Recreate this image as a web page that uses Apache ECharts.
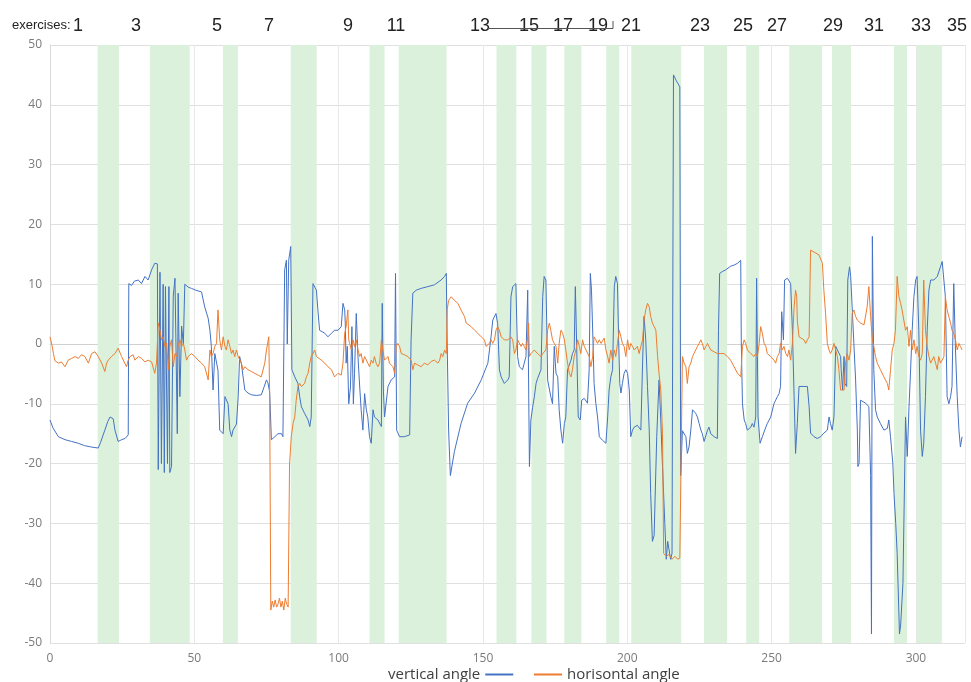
<!DOCTYPE html>
<html>
<head>
<meta charset="utf-8">
<script src="https://cdn.jsdelivr.net/npm/echarts@6/dist/echarts.min.js"></script>
<style>html,body{margin:0;padding:0;background:#fff}#c{width:971px;height:682px}</style>
</head>
<body>
<div id="c"></div>
<script>
// ---- data ----
const seriesNames = ['vertical angle', 'horisontal angle'];
const yTicks = [-50, -40, -30, -20, -10, 0, 10, 20, 30, 40, 50];
const xTicks = [0, 50, 100, 150, 200, 250, 300];
const exerciseLabels = ['1','3','5','7','9','11','13','15','17','19','21','23','25','27','29','31','33','35'];
const bandStarts = [16.5, 34.6, 59.9, 83.4, 110.7, 120.8, 154.7, 166.8, 178.2, 192.7, 201.4, 226.6, 241.2, 256.1, 270.9, 292.4, 300.3];
const bandEnds   = [23.9, 48.4, 65.1, 92.4, 115.9, 137.4, 161.6, 172.0, 184.1, 197.2, 218.7, 234.6, 245.7, 267.5, 277.5, 296.9, 309.0];

const blueX = [0,1,2.9,5.2,7.5,9.8,12,14,16.7,17.5,19,20,20.8,21.9,22.5,23.6,24.8,26,27.1,27.3,28.3,29.2,30.6,31.7,32.9,34,35.2,36.3,37.2,
37.5,38.1,38.6,39.2,39.6,40,40.7,41.2,41.5,42.1,42.7,43.3,44.1,44.4,45,45.6,46.2,46.7,47.9,49,50.5,52.5,53.6,54.8,55.4,55.9,56.5,57.1,58.2,58.8,60,60.6,61.7,62.3,62.9,63.4,64.6,65.2,65.7,66.3,67.5,68.6,69.8,71.5,73.2,73.8,75,75.5,76.1,76.7,77.9,79,
80.2,80.7,81.3,81.9,82.2,82.7,83.4,83.8,84.8,85.9,86.5,87.1,88.2,89.4,90,90.5,91.1,92.3,92.8,93.4,94,95.2,96.3,97.5,98.6,99.8,100.9,101.5,102.1,102.3,102.6,103,103.5,104.1,104.6,105.1,105.5,106.1,106.7,107.3,107.8,108.4,109,109.6,110.1,110.7,111.3,111.9,112.4,113.6,114.8,115.1,115.5,115.9,117.1,118.2,119.4,119.7,120.1,121.1,122.8,124.6,125.1,125.7,126.9,128.6,130.9,133.2,135.5,136.7,137.3,137.6,138.1,138.7,140.1,142.4,144.7,147.1,149.4,151.7,152.8,153.4,154.5,155.1,155.7,156.3,157.4,158.6,
159.1,159.7,160.3,160.9,161.4,162,162.6,163.7,164.3,164.9,165.5,166.1,166.6,167.2,167.8,168.4,168.9,169.5,170.1,170.7,171.2,171.8,172.2,172.4,173.5,174.1,174.7,175.3,175.9,176.4,177,177.6,178.2,178.7,179.3,180.5,181,181.6,182,182.5,183,183.7,184.2,185.1,185.7,186.2,186.8,187.2,187.6,188.1,188.5,189.1,189.7,190.3,191.4,192.6,193.2,193.7,194.3,194.9,195.5,196,196.6,197,197.4,197.8,198.3,198.9,199.5,200.1,200.7,201.2,201.8,202.4,203.5,204.7,205.3,205.8,206.4,207,207.6,208.1,208.7,209.3,210.2,211,211.6,212.2,213,213.5,214,215,215.5,216,216.5,217,217.5,218,218.2,218.5,219.1,220.3,220.8,221.4,222,222.6,223.1,223.7,224.3,224.9,225.5,226,226.6,227.2,227.8,228.3,228.9,230.1,231.2,231.6,232,232.9,234.1,235.8,237,238.2,239.3,
239.5,239.9,240.5,241,241.6,242.2,242.8,243.3,243.9,244.5,244.8,245.3,246,246.8,248,248.5,249.7,250.8,251.4,252,252.6,253.1,253.5,254.1,254.5,255.5,256,256.6,257.2,257.8,258.3,258.9,259.5,260.1,261.2,262.4,263,263.5,264.7,265.8,267,268.1,269.3,269.9,270.4,271,271.6,272.2,272.8,273.3,273.9,274.1,274.6,275.1,275.4,276,276.4,277,277.4,277.9,278.5,279.1,279.7,279.9,280.3,280.8,281.4,282.6,283.1,283.7,284.3,284.6,284.9,285.4,286,286.6,287.7,288.9,290.1,290.6,291.2,292,292.4,293,293.5,294.3,294.7,295.5,296.4,297,297.6,298.1,298.7,299.3,299.9,300.4,301,301.6,302.2,302.7,303.3,303.9,304.5,305.1,306.2,307.4,308.5,309.1,309.7,310.2,310.8,311.4,312,312.5,313.1,313.7,314.3,314.9,315.4,316];
const blueY = [-12.7,-14,-15.5,-16,-16.3,-16.6,-17,-17.2,-17.4,-16.5,-14.4,-13,-12.2,-12.5,-14.4,-16.3,-16,-15.8,-15.2,10.1,9.8,10.5,10.7,10.1,11.3,10.7,12.4,13.5,13.4,
-21,12,-20,10,-21.5,9.6,-20,9.6,-21.5,-20.5,8,11,-15,8.5,-8.8,3,0,10,9.5,9.3,9.0,8.7,6.2,4.3,2.3,-0.4,-7.7,-1.6,-4.4,-14.4,-15,-8.8,-10,-14.4,-15.5,-14.4,-13.4,-8.8,-2.1,-3.3,-7.7,-8.2,-8.5,-8.6,-8.5,-7.7,-6,-6.5,-8,-16,-15.5,-15,
-15,-15.5,12.4,14,0,14,16.3,-4.3,-5.5,-6.6,-8.8,-10.5,-11.6,-12.7,-13.8,-12.2,10.1,9,5.7,2.3,2,1.8,1.2,1.8,2.3,2.3,2.9,6.8,5.7,3.4,-3.2,-0.4,-10,-7.2,2.9,-10,-4.9,5.1,-2.1,-7.2,-11,-14.4,-8.3,-11,-12.2,-15.5,-16.6,-11,-12.2,-12.7,-13.8,6.8,-7.7,-12.2,-7.1,-6,-5.5,11.8,-14.4,-15.5,-15.5,-15.2,0.7,8.5,9,9.3,9.6,9.9,10.7,11.3,11.8,0,-14.4,-22,-18,-13.3,-9.9,-8.2,-6,-3.2,1.2,4,5.1,3.4,-4.3,-5.5,-6.6,-6,
-5.5,7.9,9.6,9.3,10.1,-2.1,-3.8,-4.3,-3.2,-2.1,9,-20.5,-12.7,-10.6,-8.8,-6.6,-5.8,-5.5,-4.3,7.9,11.3,10.7,0.7,-6,-8.8,-10,-0.4,-4.9,-5.5,-11,-14.4,-16.6,-13.3,-12.2,-4.3,-2.7,-1.6,-1,9.6,-1,-12.2,-12.7,-9.4,-9.1,-8.8,-9.9,-4.3,11.8,9,0.7,-6.6,-9.9,-12.2,-15.5,-16.1,-16.6,-12.2,-7.7,-5.5,-4.3,9.6,11.3,10.1,0.7,-6.6,-8.2,-6.6,-4.9,-4.3,-4.9,-7.7,-15.5,-14.4,-13.9,-13.6,-14.4,-3.2,4.6,0.7,-7.1,-14.4,-25,-33,-32,-15.5,-6,-12.7,-20.5,-30,-36,-33,-36,-35,45,44.5,44,43.6,43.8,43,-22,-14.5,-15.5,-18.3,-17.2,-14.4,-11,-10.8,-11.6,-12.2,-13.3,-14.4,-15,-16.3,-16.6,-14.4,-13.9,-15,-15.5,-15.8,2.3,11.8,12.1,12.4,13,13.2,13.5,14,
0,-10,-12.7,-13.3,-14.4,-14.7,-13.9,-13.3,-13.9,-12.2,11,-12.2,-16.6,-15.5,-13.9,-13.3,-12.2,-10,-9.4,-8.8,-8.3,-7.1,5.4,0.7,10.7,11,10.7,10.1,2.3,-8.8,-18.3,-13.3,-7.1,-6.9,-7.1,-7.1,-10.5,-14.9,-15.5,-15.8,-15.5,-14.9,-14.4,-12.2,-13.3,-14.4,-12.2,-0.4,-1,-1,-2.1,-4.3,-7.7,-2.1,-6.6,-7.1,10.7,12.9,11.3,6.2,0.1,-6,-14.4,-20.5,-20,-9.4,-9.6,-9.9,-9.9,-10.5,-22,-48.5,18,-4.3,-11,-12.2,-13.3,-14.4,-14.1,-12.7,-15.5,-20,-25,-30,-35,-48.5,-47,-40,-12.2,-18.8,-10.5,-5,2.3,7.9,10.7,11.3,2.3,-14.4,-18.8,-16.6,-8.8,2.3,9,10.7,10.7,11.3,12.9,13.8,13.5,7.9,-8.8,-10,-8.8,-7.1,10.1,-1,-8.8,-14.4,-17.2,-15.5];

const orangeX = [0,0.6,1.2,1.7,2.9,4,5.2,6.3,7.5,8.7,9.8,10.9,12.1,13.3,14.4,15.6,16.7,17.9,19,19.6,20.2,21.3,22.5,23.6,24.8,25.9,26.5,27.1,27.7,28.3,28.8,29.4,30.6,31.7,32.9,34,35.2,36.3,36.9,37.5,38.1,38.6,39.2,39.8,40.4,41,41.5,42.1,42.7,43.3,43.9,44.4,45,45.6,46.2,46.7,47.3,47.9,49,50.2,51.3,52.5,53.6,54.8,55.4,55.9,56.5,57.1,57.7,58.2,58.8,59.4,60,60.6,61.1,61.7,62.3,62.9,63.4,64,64.6,65.2,66.3,66.9,67.5,68.6,69.8,70.9,72.1,73.2,74.4,75,75.8,76.1,76.5,77,77.5,78,78.5,79,79.5,80,80.5,81,81.5,82,82.5,83,
83.6,84.2,84.8,85.3,85.9,86.5,87.1,88.2,88.8,89.4,90,90.5,91.1,91.7,92.3,92.8,94,95.2,96.3,97.5,98.6,99.8,100.9,101.5,102.1,102.6,103.2,103.5,103.8,104.4,105,105.5,106.1,106.7,107.3,107.8,108.4,109,109.6,110.1,110.7,111.3,111.9,112.4,113,113.6,114.2,114.8,115.3,115.9,117.1,117.6,118.2,118.8,119.4,119.95,120.5,121.1,121.7,122.8,124,124.6,125.1,125.7,126.3,127.4,128.6,129.7,130.9,132.1,133.2,134.4,135,135.5,136.1,136.7,137.3,137.6,138.1,139,140.1,141.3,142.4,143.6,144.2,144.7,145.9,147.1,148.2,149.4,150.5,151.1,151.7,152.2,152.8,153.4,154,154.5,155.1,155.7,156.3,157.4,
158.6,159.7,160.3,160.9,161.4,162,162.6,163.2,163.7,164.3,164.9,165.5,165.8,166.1,166.6,167.8,168.9,170.1,170.7,171.8,172.4,173,173.5,174.1,174.7,175.3,175.9,176.4,177,177.6,178.2,178.7,179.3,179.9,180.5,181,181.6,182.2,182.8,183.4,183.9,184.5,185.1,185.7,186.2,186.8,187.4,188,188.5,189.1,189.7,190.3,190.9,191.4,192,192.6,193.2,193.7,194.3,194.9,195.5,196,196.6,197.2,197.8,198.3,198.9,199.5,200.1,200.7,201.2,201.8,202.4,203.5,204.1,204.7,205.3,205.8,206.4,207,207.6,208.1,208.7,209.3,209.9,210.5,211,211.6,212.2,212.6,213.5,214.5,215.5,216.5,217.5,218.2,219.1,219.7,220.3,220.8,221.4,222,222.6,223.1,223.7,224.3,224.9,225.5,226,226.6,227.2,227.8,228.3,228.9,230.1,231.2,232.4,233.5,234.7,235.8,237,
238.2,239.3,239.9,240.5,241,241.6,242.8,243.9,244.5,245.1,245.7,246.2,246.8,247.4,248,248.5,249.7,250.8,251.4,252,252.6,253.1,253.7,254.3,254.9,255.5,256,256.6,257.2,257.8,258.3,258.7,258.9,259.5,260.1,261.2,261.8,262.4,263,263.5,264.1,265.3,266.4,267,267.6,268.1,268.7,269.3,269.9,270.4,271,271.6,272.2,272.8,273.3,273.9,274.5,275.1,275.6,276.2,276.8,277.4,277.9,278.5,279.1,279.7,280.8,282,282.6,283.1,283.7,284.3,284.9,285.4,286,286.6,287.7,288.9,290.1,290.6,291.2,291.8,292.4,292.9,293.5,294.1,294.7,295.2,295.8,296.4,297,297.6,298.1,298.7,299.3,299.9,300.4,301,301.6,302.2,302.7,303.3,303.9,304.5,305.1,305.6,306.2,306.8,307.4,307.9,308.5,309.1,309.7,310.2,310.8,311.4,312,312.5,313.1,313.7,314.3,314.9,315.4,316];
const orangeY = [1.2,0,-1.6,-2.8,-3.2,-3,-3.8,-2.7,-2.4,-2.1,-2.4,-1.8,-2.1,-3.2,-1.6,-1.3,-2.1,-3.2,-4.6,-3.2,-2.7,-2.1,-1.6,-0.7,-2.1,-3.2,-3.8,-2.7,-2.1,-2.4,-1.8,-2.7,-2.1,-2.4,-3,-2.7,-3,-4.9,-3.2,3.5,2.3,0.7,1.2,-0.4,0.1,-4.3,-0.4,0.7,-3.8,-1.6,-2.1,-0.2,0.7,-0.4,0.1,-1,-2.7,-2.1,-1.6,-2.1,-2.7,-3.2,-3.8,-6,-1,-2.1,-1.6,-0.4,0.1,5.7,0.7,-1,1.2,-0.4,-1,0.7,-0.4,-1.6,-1,-2.1,-1,-2.1,-3.2,-4.3,-3.8,-4.3,-4.6,-4.9,-5.2,-5.5,-3.2,-1,1.2,-8.8,-44.5,-43,-44,-42.8,-44,-43.5,-42.5,-44,-43,-44.5,-42.5,-43.5,-44,-20,
-15.5,-13.3,-12.2,-9.4,-7.1,-6.6,-7.1,-6.6,-5.5,-4.9,-3.2,-2.1,-1.6,-1,-2.1,-2.1,-2.7,-3.2,-3.8,-4.3,-5.5,-4.9,-5.2,-3.2,1.8,2.9,5.7,0.7,0.1,-1,0.7,-0.4,0.7,-1,-2.1,-1.6,-3.2,-2.1,-2.7,-3.2,-3.8,-2.7,-3.2,-2.1,-3.2,-3.8,-3.2,0.7,-1,-2.7,-2.1,-3.2,-3.5,-3.8,-4.9,-0.4,0.1,-0.4,-1.6,-1.8,-2.1,-2.4,-2.7,-4.3,-3.2,-3.5,-3.8,-3.2,-3.5,-2.9,-2.7,-3.2,-2.7,-1.6,-2.1,-1,-1.6,5.7,7.3,7.9,7.3,6.8,5.7,4.6,3.5,3.7,2.9,2.3,1.8,1.2,0.7,-0.4,-0.4,0.1,0.7,0.1,0.7,2.3,2.9,2.3,1.2,0.7,
0.7,1.2,0.7,-1.6,-1,0.7,0.4,-0.4,0.1,-0.4,-1,1.2,3.5,-2.1,-1.6,-1,-1.6,-2.1,-1.6,-1,2.3,3.5,2.3,0.7,0.1,-0.4,-3.2,0.1,2.3,1.8,0.7,-1,-3.2,-4.9,-5.5,-4.3,-2.1,-1,0.7,-0.4,-1.6,0.7,-0.4,-1,-0.7,-2.1,-3.8,-2.1,1.2,0.7,0.1,0.7,0.1,0.4,1,-1,-2.1,-3.2,-1,-2.7,-1,-2.1,0.1,2.3,1.2,0.1,-0.4,-2.1,0.7,-1,0.1,-0.4,-1,-0.4,-1.6,-0.4,0.7,4,5.7,6.8,6.2,4.6,3.5,2.9,2.3,-2.1,-4.9,-7.7,-15,-35,-35.5,-35.2,-36,-35.5,-36,-35.8,-2.1,-3.2,-3.8,-6.6,-3.8,-3.2,-2.1,-1.6,-1,-0.4,0.1,0.7,0.1,-1,-0.4,0.1,-0.4,-1,-1.3,-1.6,-1.6,-1.6,-2.1,-2.7,-3.8,
-4.9,-5.5,-0.4,0.7,0.1,-1,-1.6,-2.1,-1.6,-2.1,0.1,2.9,1.8,0.1,-0.4,-1.6,-2.1,-2.7,-3.2,-2.1,-1.6,0.1,-1,-0.4,-1.6,-2.1,-1,-2.7,0.1,6.2,9,7.9,4,1.2,0.9,0.7,0.1,0.7,1.2,15.7,15.7,15.2,14.9,14.6,13.5,9,5.1,0.1,-1,-1.6,-1,0.1,-1,-2.1,-4.3,-7.7,-8,-7.7,-3.2,-1.6,-2.7,-1,5.1,5.7,4.6,4,3.5,3.2,2.9,6.2,9.6,4.6,0.7,-0.4,-2.1,-3.2,-4.3,-5.5,-6.6,-7.7,-4.3,-1,0.1,2.3,11.3,7.9,6.8,5.7,4,2.3,2.9,-0.4,2.3,-1,0.7,-1.6,-0.4,-2.1,-2.7,-1.6,10.7,2.3,-0.4,-2.1,-3.2,-2.7,-2.1,-3.2,-4.3,-2.1,-3.2,-2.7,-2.1,7.9,5.7,4.6,3.5,2.3,1.8,0.7,-1,0.1,-0.4,-1];

// ---- chart ----
const chart = echarts.init(document.getElementById('c'), null, {renderer: 'canvas'});
const bandData = bandStarts.map((s, i) => [{xAxis: s}, {xAxis: bandEnds[i]}]);
const zip = (xs, ys) => xs.map((x, i) => [x, ys[i]]);
const labelPx = [78,136,217,269,348,396,480,529,563,598,631,700,743,777,833,874,921,957];

const graphics = [{
  type: 'text', left: 12, top: 19,
  style: {text: 'exercises:', font: '13px "Liberation Sans", Arial, sans-serif', fill: '#222'}
}];
exerciseLabels.forEach((t, i) => {
  graphics.push({type: 'text', x: labelPx[i], y: 26,
    style: {text: t, font: '18px "Liberation Sans", Arial, sans-serif', fill: '#222', align: 'center', verticalAlign: 'middle'}});
});
graphics.push({type: 'polyline', shape: {points: [[487, 28.5], [613, 28.5], [613, 21]]}, style: {stroke: '#555', lineWidth: 1, fill: null}});

chart.setOption({
  animation: false,
  backgroundColor: '#fff',
  grid: {left: 50, right: 6, top: 45, bottom: 39, containLabel: false},
  xAxis: {
    type: 'value', min: 0, max: 317, interval: 50,
    axisLine: {onZero: true, lineStyle: {color: '#d0d0d0'}},
    axisTick: {show: false},
    axisLabel: {color: '#7a7a7a', fontSize: 12, margin: 10, showMaxLabel: false, fontFamily: 'Open Sans'},
    splitLine: {show: true, lineStyle: {color: '#e8e8e8'}}
  },
  yAxis: {
    type: 'value', min: -50, max: 50, interval: 10,
    axisLine: {show: true, onZero: false, lineStyle: {color: '#d9d9d9'}},
    axisTick: {show: false},
    axisLabel: {color: '#7a7a7a', fontSize: 12, margin: 8, fontFamily: 'Open Sans'},
    splitLine: {lineStyle: {color: '#e0e0e0'}}
  },
  legend: [
    {data: [seriesNames[0]], left: 388, top: 667, padding: 0, align: 'right', icon: 'rect', itemWidth: 28, itemHeight: 2,
     textStyle: {fontSize: 15, color: '#404040', fontFamily: 'Open Sans'}},
    {data: [seriesNames[1]], left: 534, top: 667, padding: 0, align: 'left', icon: 'rect', itemWidth: 28, itemHeight: 2,
     textStyle: {fontSize: 15, color: '#404040', fontFamily: 'Open Sans'}}
  ],
  graphic: graphics,
  series: [
    {name: seriesNames[0], type: 'line', data: zip(blueX, blueY), showSymbol: false, symbol: 'none',
     lineStyle: {color: '#4472C4', width: 1}, itemStyle: {color: '#4472C4'}, z: 3,
     markArea: {silent: true, itemStyle: {color: '#dcf1dc'}, data: bandData}},
    {name: seriesNames[1], type: 'line', data: zip(orangeX, orangeY), showSymbol: false, symbol: 'none',
     lineStyle: {color: '#ED7D31', width: 1}, itemStyle: {color: '#ED7D31'}, z: 4}
  ]
});
</script>
</body>
</html>
